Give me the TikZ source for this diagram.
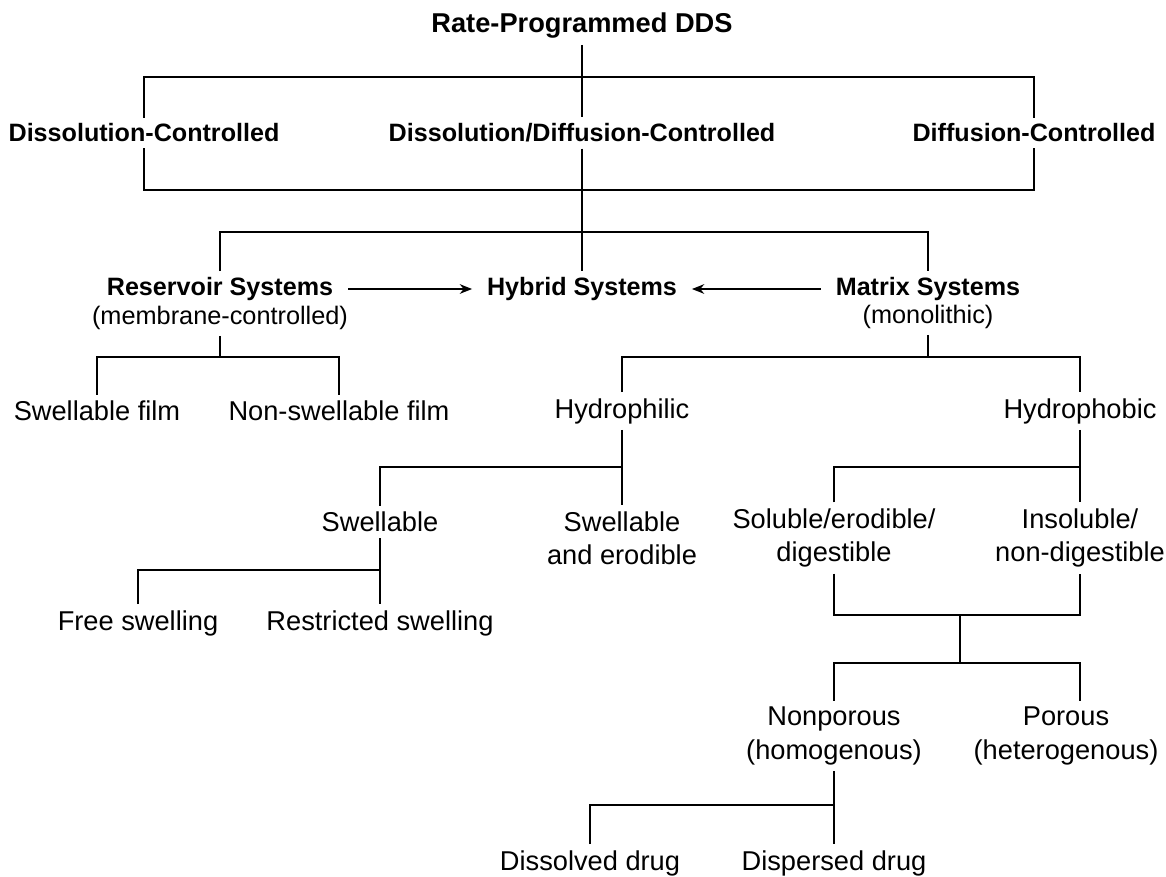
\documentclass[tikz,border=0pt]{standalone}
\usepackage{fontspec}
\setmainfont{Liberation Sans}
\usetikzlibrary{arrows.meta}

\begin{document}
\begin{tikzpicture}[x=0.02cm,y=-0.02cm]
		\tikzstyle{titre} = [font=\fontsize{15.5}{18}\selectfont\bfseries]
		\tikzstyle{groupe} = [font=\fontsize{14.3}{17}\selectfont\bfseries]
		\tikzstyle{note} = [font=\fontsize{14.4}{17}\selectfont]
		\tikzstyle{feuille} = [font=\fontsize{15.5}{19}\selectfont,align=center]
		\tikzstyle{trait} = [line width=1pt]
		\tikzstyle{fleche} = [-{Stealth[length=7pt,width=5.5pt]},line width=1pt,shorten <=5pt,shorten >=5pt]
		
		\useasboundingbox (0,0) rectangle (1166,876);
		
		\node[titre](DDS) at (582,26) {Rate-Programmed DDS};
		
		\node[groupe](Dissolution) at (144,133) {Dissolution-Controlled};
		\node[groupe](Mixte) at (582,133) {Dissolution/Diffusion-Controlled};
		\node[groupe](Diffusion) at (1034,133) {Diffusion-Controlled};
		
		\node[groupe](Reservoir) at (220,289) {Reservoir Systems};
		\node[note](Membrane) at (220,318) {(membrane-controlled)};
		\node[groupe](Hybride) at (582,289) {Hybrid Systems};
		\node[groupe](Matrice) at (928,289) {Matrix Systems};
		\node[note](Monolithe) at (928,317) {(monolithic)};
		
		\node[feuille](Film) at (97,411) {Swellable film};
		\node[feuille](NonFilm) at (339,411) {Non-swellable film};
		\node[feuille](Hydrophile) at (622,411) {Hydrophilic};
		\node[feuille](Hydrophobe) at (1080,411) {Hydrophobic};
		
		\node[feuille](Gonflable) at (380,522) {Swellable};
		\node[feuille](Erodable) at (622,538) {Swellable\\and erodible};
		\node[feuille](Soluble) at (834,538) {Soluble/erodible/\\digestible};
		\node[feuille](Insoluble) at (1080,538) {Insoluble/\\non-digestible};
		
		\node[feuille](Libre) at (138,623) {Free swelling};
		\node[feuille](Restreint) at (380,623) {Restricted swelling};
		
		\node[feuille](NonPoreux) at (834,736) {Nonporous\\(homogenous)};
		\node[feuille](Poreux) at (1066,736) {Porous\\(heterogenous)};
		
		\node[feuille](Dissous) at (590,863) {Dissolved drug};
		\node[feuille](Disperse) at (834,863) {Dispersed drug};
		
		% points de jonction
		\coordinate (haut) at (582,76.7);
		\coordinate (bas) at (582,190);
		\coordinate (systemes) at (582,231.7);
		\coordinate (films) at (220,356.7);
		\coordinate (matrices) at (928,356.7);
		\coordinate (philes) at (622,467);
		\coordinate (phobes) at (1080,467);
		\coordinate (gonfle) at (380,570);
		\coordinate (solubles) at (960,615);
		\coordinate (pores) at (960,662.7);
		\coordinate (drogues) at (834,805);
		
		\draw[trait] (DDS) -- (Mixte);
		\draw[trait] (Dissolution) |- (haut) -| (Diffusion);
		\draw[trait] (Dissolution) |- (bas) -| (Diffusion);
		\draw[trait] (Mixte) -- (Hybride);
		\draw[trait] (Reservoir) |- (systemes) -| (Matrice);
		
		\draw[fleche] (Reservoir) -- (Hybride);
		\draw[fleche] (Matrice) -- (Hybride);
		
		\draw[trait] (Membrane) -- (films);
		\draw[trait] (Film) |- (films) -| (NonFilm);
		\draw[trait] (Monolithe) -- (matrices);
		\draw[trait] (Hydrophile) |- (matrices) -| (Hydrophobe);
		
		\draw[trait] (Hydrophile) -- (Erodable);
		\draw[trait] (Gonflable) |- (philes);
		\draw[trait] (Hydrophobe) -- (Insoluble);
		\draw[trait] (Soluble) |- (phobes);
		
		\draw[trait] (Gonflable) -- (Restreint);
		\draw[trait] (Libre) |- (gonfle);
		
		\draw[trait] (Soluble) |- (solubles) -| (Insoluble);
		\draw[trait] (solubles) -- (pores);
		\draw[trait] (NonPoreux) |- (pores) -| (Insoluble |- Poreux.north);
		
		\draw[trait] (NonPoreux) -- (Disperse);
		\draw[trait] (Dissous) |- (drogues);
		\end{tikzpicture}
\end{document}
